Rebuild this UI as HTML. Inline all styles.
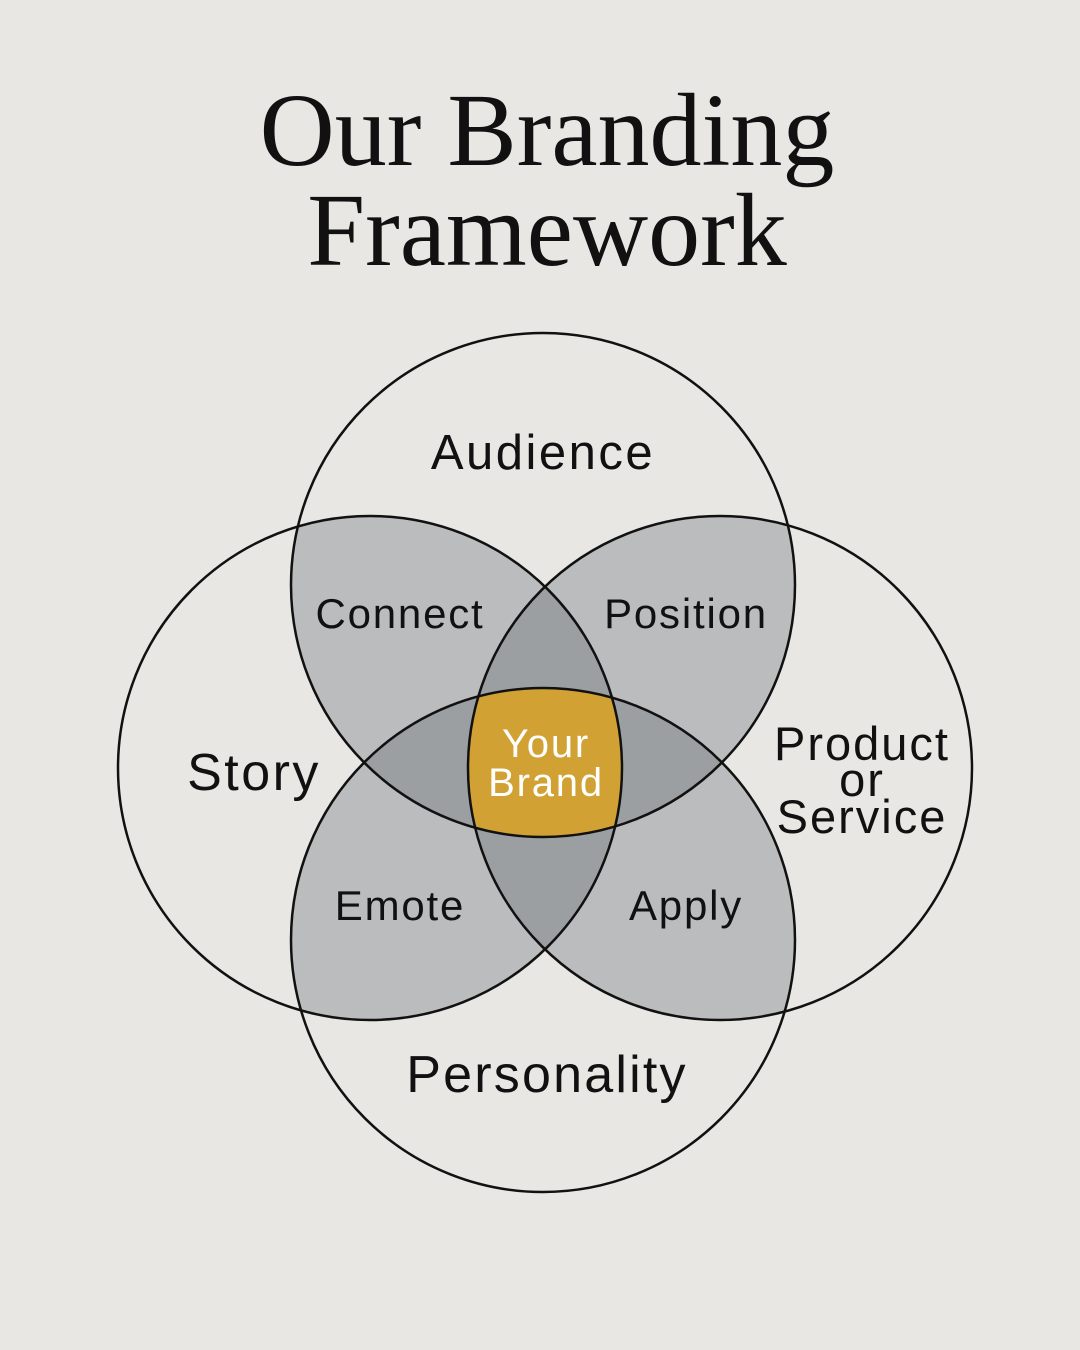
<!DOCTYPE html>
<html><head><meta charset="utf-8"><style>
html,body{margin:0;padding:0;background:#e8e7e3;}
svg{display:block}
</style></head><body>
<svg width="1080" height="1350" viewBox="0 0 1080 1350" xmlns="http://www.w3.org/2000/svg">
<rect width="1080" height="1350" fill="#e8e7e3"/>
<defs>
<clipPath id="cT"><circle cx="543" cy="585" r="252"/></clipPath>
<clipPath id="cB"><circle cx="543" cy="940" r="252"/></clipPath>
<clipPath id="cL"><circle cx="370" cy="768" r="252"/></clipPath>
<clipPath id="cR"><circle cx="720" cy="768" r="252"/></clipPath>
</defs>
<text x="547" y="165" text-anchor="middle" font-family="Liberation Serif, serif" font-size="104" fill="#111">Our Branding</text>
<text x="547" y="265" text-anchor="middle" font-family="Liberation Serif, serif" font-size="104" fill="#111">Framework</text>
<g fill="#bbbcbd">
<g clip-path="url(#cT)"><circle cx="370" cy="768" r="252"/><circle cx="720" cy="768" r="252"/><circle cx="543" cy="940" r="252"/></g>
<g clip-path="url(#cB)"><circle cx="370" cy="768" r="252"/><circle cx="720" cy="768" r="252"/></g>
<g clip-path="url(#cL)"><circle cx="720" cy="768" r="252"/></g>
</g>
<g fill="#9b9fa2">
<g clip-path="url(#cT)"><g clip-path="url(#cL)"><circle cx="720" cy="768" r="252"/><circle cx="543" cy="940" r="252"/></g></g>
<g clip-path="url(#cT)"><g clip-path="url(#cR)"><circle cx="543" cy="940" r="252"/></g></g>
<g clip-path="url(#cB)"><g clip-path="url(#cL)"><circle cx="720" cy="768" r="252"/></g></g>
</g>
<g clip-path="url(#cT)"><g clip-path="url(#cB)"><g clip-path="url(#cL)"><circle cx="720" cy="768" r="252" fill="#d2a134"/></g></g></g>
<g fill="none" stroke="#111" stroke-width="2.5">
<circle cx="543" cy="585" r="252"/>
<circle cx="543" cy="940" r="252"/>
<circle cx="370" cy="768" r="252"/>
<circle cx="720" cy="768" r="252"/>
</g>
<g font-family="Liberation Sans, sans-serif" fill="#111" text-anchor="middle">
<text x="543" y="469" font-size="49" letter-spacing="2.5">Audience</text>
<text x="400" y="628" font-size="42" letter-spacing="1.8">Connect</text>
<text x="686" y="628" font-size="42" letter-spacing="1.8">Position</text>
<text x="254" y="790" font-size="52" letter-spacing="2.5">Story</text>
<text x="862" y="760" font-size="47" letter-spacing="2">Product</text>
<text x="862" y="796" font-size="47" letter-spacing="2">or</text>
<text x="862" y="833" font-size="47" letter-spacing="2">Service</text>
<text x="400" y="920" font-size="42" letter-spacing="1.8">Emote</text>
<text x="686" y="920" font-size="42" letter-spacing="1.8">Apply</text>
<text x="547" y="1092" font-size="52" letter-spacing="2.2">Personality</text>
<text x="546" y="757" font-size="40" letter-spacing="1.8" fill="#fff">Your</text>
<text x="546" y="796" font-size="40" letter-spacing="1.8" fill="#fff">Brand</text>
</g>
</svg>
</body></html>
